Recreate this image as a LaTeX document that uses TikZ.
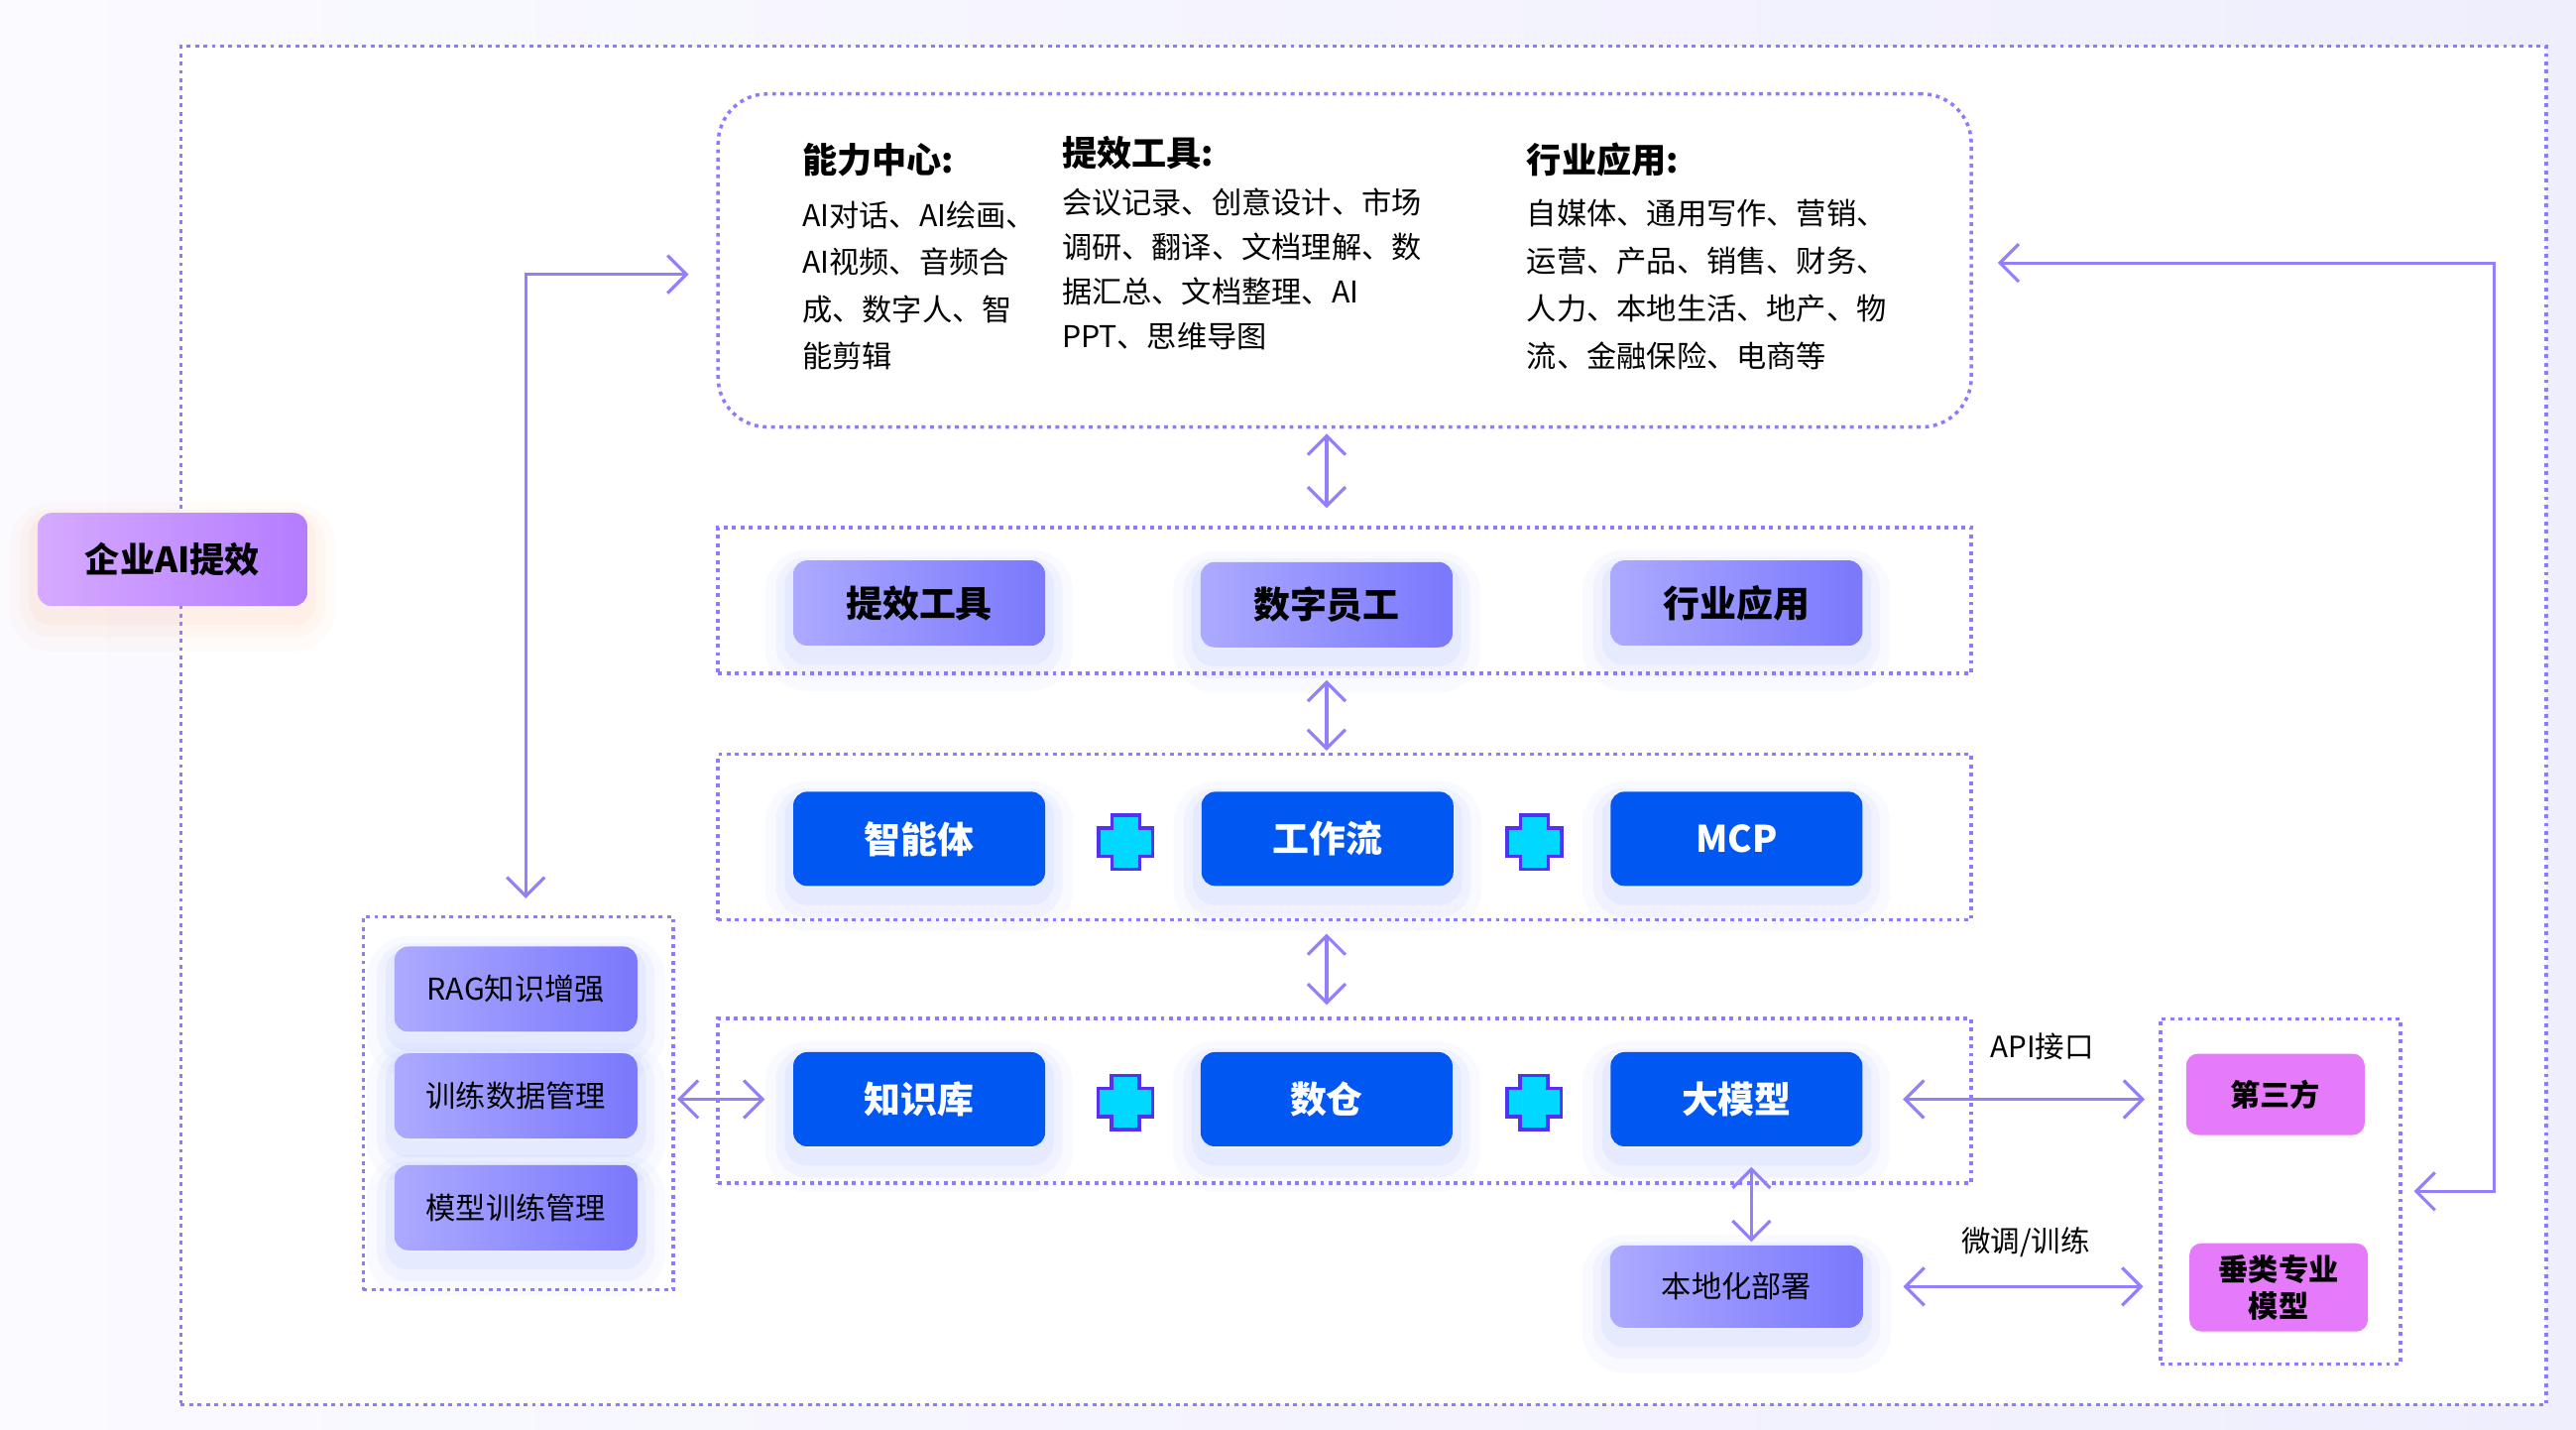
\documentclass[tikz,border=0pt]{standalone}
\usepackage{fontspec}
\setmainfont{Noto Sans CJK SC}
\usepackage{tikz}
\usetikzlibrary{calc, arrows.meta}
\definecolor{lineViolet}{RGB}{140,122,255}
\definecolor{arrowViolet}{RGB}{146,128,250}
\definecolor{boxBlue}{RGB}{0,87,242}
\definecolor{periLight}{RGB}{172,170,255}
\definecolor{periDark}{RGB}{122,120,252}
\definecolor{mainLight}{RGB}{214,170,255}
\definecolor{mainDark}{RGB}{180,124,255}
\definecolor{pinkFill}{RGB}{229,122,250}
\definecolor{plusCyan}{RGB}{0,216,255}
\definecolor{plusEdge}{RGB}{85,48,240}
\definecolor{glowBlue}{RGB}{110,140,255}
\definecolor{glowOrange}{RGB}{255,170,120}
\definecolor{bgLight}{RGB}{250,250,255}
\definecolor{bgDark}{RGB}{239,238,253}
\tikzset{
    frame/.style={rectangle, draw=lineViolet, line width=1pt, dash pattern=on 1.1pt off 1.3pt, inner sep=0pt},
    glow/.style={
        preaction={draw=#1, line width=16pt, opacity=0.04, transform canvas={yshift=-5pt}},
        preaction={draw=#1, line width=10pt, opacity=0.06, transform canvas={yshift=-4pt}},
        preaction={draw=#1, line width=5pt, opacity=0.08, transform canvas={yshift=-3pt}}},
    glow/.default=glowBlue,
    mainBox/.style={rectangle, rounded corners=0.14cm, left color=mainLight, right color=mainDark, minimum width=2.72cm, minimum height=0.94cm, font=\fontsize{10}{12}\selectfont\bfseries, glow=glowOrange},
    lightBox/.style={rectangle, rounded corners=0.14cm, left color=periLight, right color=periDark, minimum width=2.54cm, minimum height=0.86cm, font=\fontsize{10.5}{12}\selectfont\bfseries, glow},
    blueBox/.style={rectangle, rounded corners=0.14cm, fill=boxBlue, text=white, minimum width=2.54cm, minimum height=0.95cm, font=\fontsize{10.5}{12}\selectfont\bfseries, glow},
    sideBox/.style={rectangle, rounded corners=0.14cm, left color=periLight, right color=periDark, minimum width=2.45cm, minimum height=0.86cm, font=\fontsize{8.6}{10}\selectfont, glow},
    pinkBox/.style={rectangle, rounded corners=0.12cm, fill=pinkFill, minimum width=1.8cm, minimum height=0.82cm, align=center, font=\fontsize{8.6}{10.4}\selectfont\bfseries},
    heading/.style={anchor=west, inner sep=0pt, font=\fontsize{10}{12}\selectfont\bfseries},
    bodyText/.style={anchor=north west, inner sep=0pt, align=left, font=\fontsize{8.6}{#1}\selectfont},
    tag/.style={inner sep=0pt, font=\fontsize{8.4}{10}\selectfont},
    plusSign/.style={fill=plusCyan, draw=plusEdge, line width=1pt},
    biArrow/.style={{Straight Barb[length=1.9mm, width=3.8mm]}-{Straight Barb[length=1.9mm, width=3.8mm]}, draw=arrowViolet, line width=0.9pt}
}
\newcommand{\plusMark}[2]{%
    \filldraw[plusSign, shift={($(#1.east)!0.5!(#2.west)+(1.5,2)$)}]
        (-8.5,-16.5) -- (8.5,-16.5) -- (8.5,-8.5) -- (16.5,-8.5) -- (16.5,8.5) -- (8.5,8.5)
        -- (8.5,16.5) -- (-8.5,16.5) -- (-8.5,8.5) -- (-16.5,8.5) -- (-16.5,-8.5) -- (-8.5,-8.5) -- cycle;}

\begin{document}
\begin{tikzpicture}[x=0.016569cm, y=-0.016569cm]
    \fill[left color=bgLight, right color=bgDark] (0,0) rectangle (1568,870);
    \useasboundingbox (0,0) rectangle (1568,870);
    \node[frame, fill=white, minimum width=23.86cm, minimum height=13.70cm] (outer) at (830,441.5) {};

    % frames
    \node[frame, rounded corners=0.5cm, minimum width=12.64cm, minimum height=3.36cm] (topFrame) at (818.5,158.5) {};
    \node[frame, minimum width=12.64cm, minimum height=1.47cm] (rowTwo) at (818.5,365.5) {};
    \node[frame, minimum width=12.64cm, minimum height=1.67cm] (rowThree) at (818.5,509.5) {};
    \node[frame, minimum width=12.64cm, minimum height=1.66cm] (rowFour) at (818.5,670) {};
    \node[frame, minimum width=3.13cm, minimum height=3.76cm] (sidePanel) at (315.5,671.5) {};
    \node[frame, minimum width=2.42cm, minimum height=3.48cm] (vendorPanel) at (1388,725) {};

    \node[mainBox] (enterprise) at (105,340.5) {企业AI提效};

    % capability texts
    \node[heading] (abilityHead) at (488,97) {能力中心:};
    \node[heading] (toolHead) at (646,93) {提效工具:};
    \node[heading] (industryHead) at (929,97) {行业应用:};
    \node[bodyText=13.5] (abilityText) at (488,122) {AI对话、AI绘画、\\AI视频、音频合\\成、数字人、智\\能剪辑};
    \node[bodyText=12.8] (toolText) at (646,114) {会议记录、创意设计、市场\\调研、翻译、文档理解、数\\据汇总、文档整理、AI\\PPT、思维导图};
    \node[bodyText=13.6] (industryText) at (929,121) {自媒体、通用写作、营销、\\运营、产品、销售、财务、\\人力、本地生活、地产、物\\流、金融保险、电商等};

    \node[lightBox] (tools) at (559.5,367) {提效工具};
    \node[lightBox] (staff) at (807.5,368) {数字员工};
    \node[lightBox] (apps) at (1057,367) {行业应用};

    \node[blueBox] (agent) at (559.5,510.5) {智能体};
    \node[blueBox] (flow) at (808,510.5) {工作流};
    \node[blueBox] (mcp) at (1057,510.5) {MCP};

    \node[blueBox] (knowledge) at (559.5,669) {知识库};
    \node[blueBox] (warehouse) at (807.5,669) {数仓};
    \node[blueBox] (bigModel) at (1057,669) {大模型};

    \plusMark{agent}{flow}
    \plusMark{flow}{mcp}
    \plusMark{knowledge}{warehouse}
    \plusMark{warehouse}{bigModel}

    \node[sideBox] (rag) at (314,602) {RAG知识增强};
    \node[sideBox] (dataMgmt) at (314,667) {训练数据管理};
    \node[sideBox] (trainMgmt) at (314,735) {模型训练管理};

    \node[sideBox, minimum width=2.55cm, minimum height=0.83cm] (local) at (1057,783) {本地化部署};
    \node[pinkBox] (thirdParty) at (1385,666) {第三方};
    \node[pinkBox] (vertical) at (1387,783.5) {垂类专业\\模型};

    \node[tag] (apiTag) at (1243,637) {API接口};
    \node[tag] (tuneTag) at (1233,756) {微调/训练};

    % connectors
    \coordinate (lBend) at (320,167);
    \coordinate (rBend) at (1518,160);
    \draw[biArrow, shorten <=0.28cm, shorten >=0.17cm] (topFrame.west |- lBend) -- (lBend) -- (lBend |- sidePanel.north);
    \draw[biArrow, shorten <=0.25cm, shorten >=0.12cm] (topFrame.east |- rBend) -- (rBend) |- (vendorPanel.east);
    \draw[biArrow, shorten <=0.05cm, shorten >=0.18cm] (staff |- topFrame.south) -- (staff |- rowTwo.north);
    \draw[biArrow, shorten <=0.05cm, shorten >=0.02cm] (staff |- rowTwo.south) -- (staff |- rowThree.north);
    \draw[biArrow, shorten <=0.12cm, shorten >=0.12cm] (staff |- rowThree.south) -- (staff |- rowFour.north);
    \draw[biArrow, shorten <=0.02cm, shorten >=0.28cm] (sidePanel.east |- knowledge) -- (knowledge.west);
    \draw[biArrow, shorten <=0.4cm, shorten >=0.41cm] (bigModel.east) -- (bigModel.east -| thirdParty.west);
    \draw[biArrow, shorten <=0.2cm, shorten >=0.03cm] ([xshift=0.15cm]bigModel.south) -- ([xshift=0.15cm]local.north);
    \draw[biArrow, shorten <=0.4cm, shorten >=0.46cm] (local.east) -- (local.east -| vertical.west);
\end{tikzpicture}
\end{document}
